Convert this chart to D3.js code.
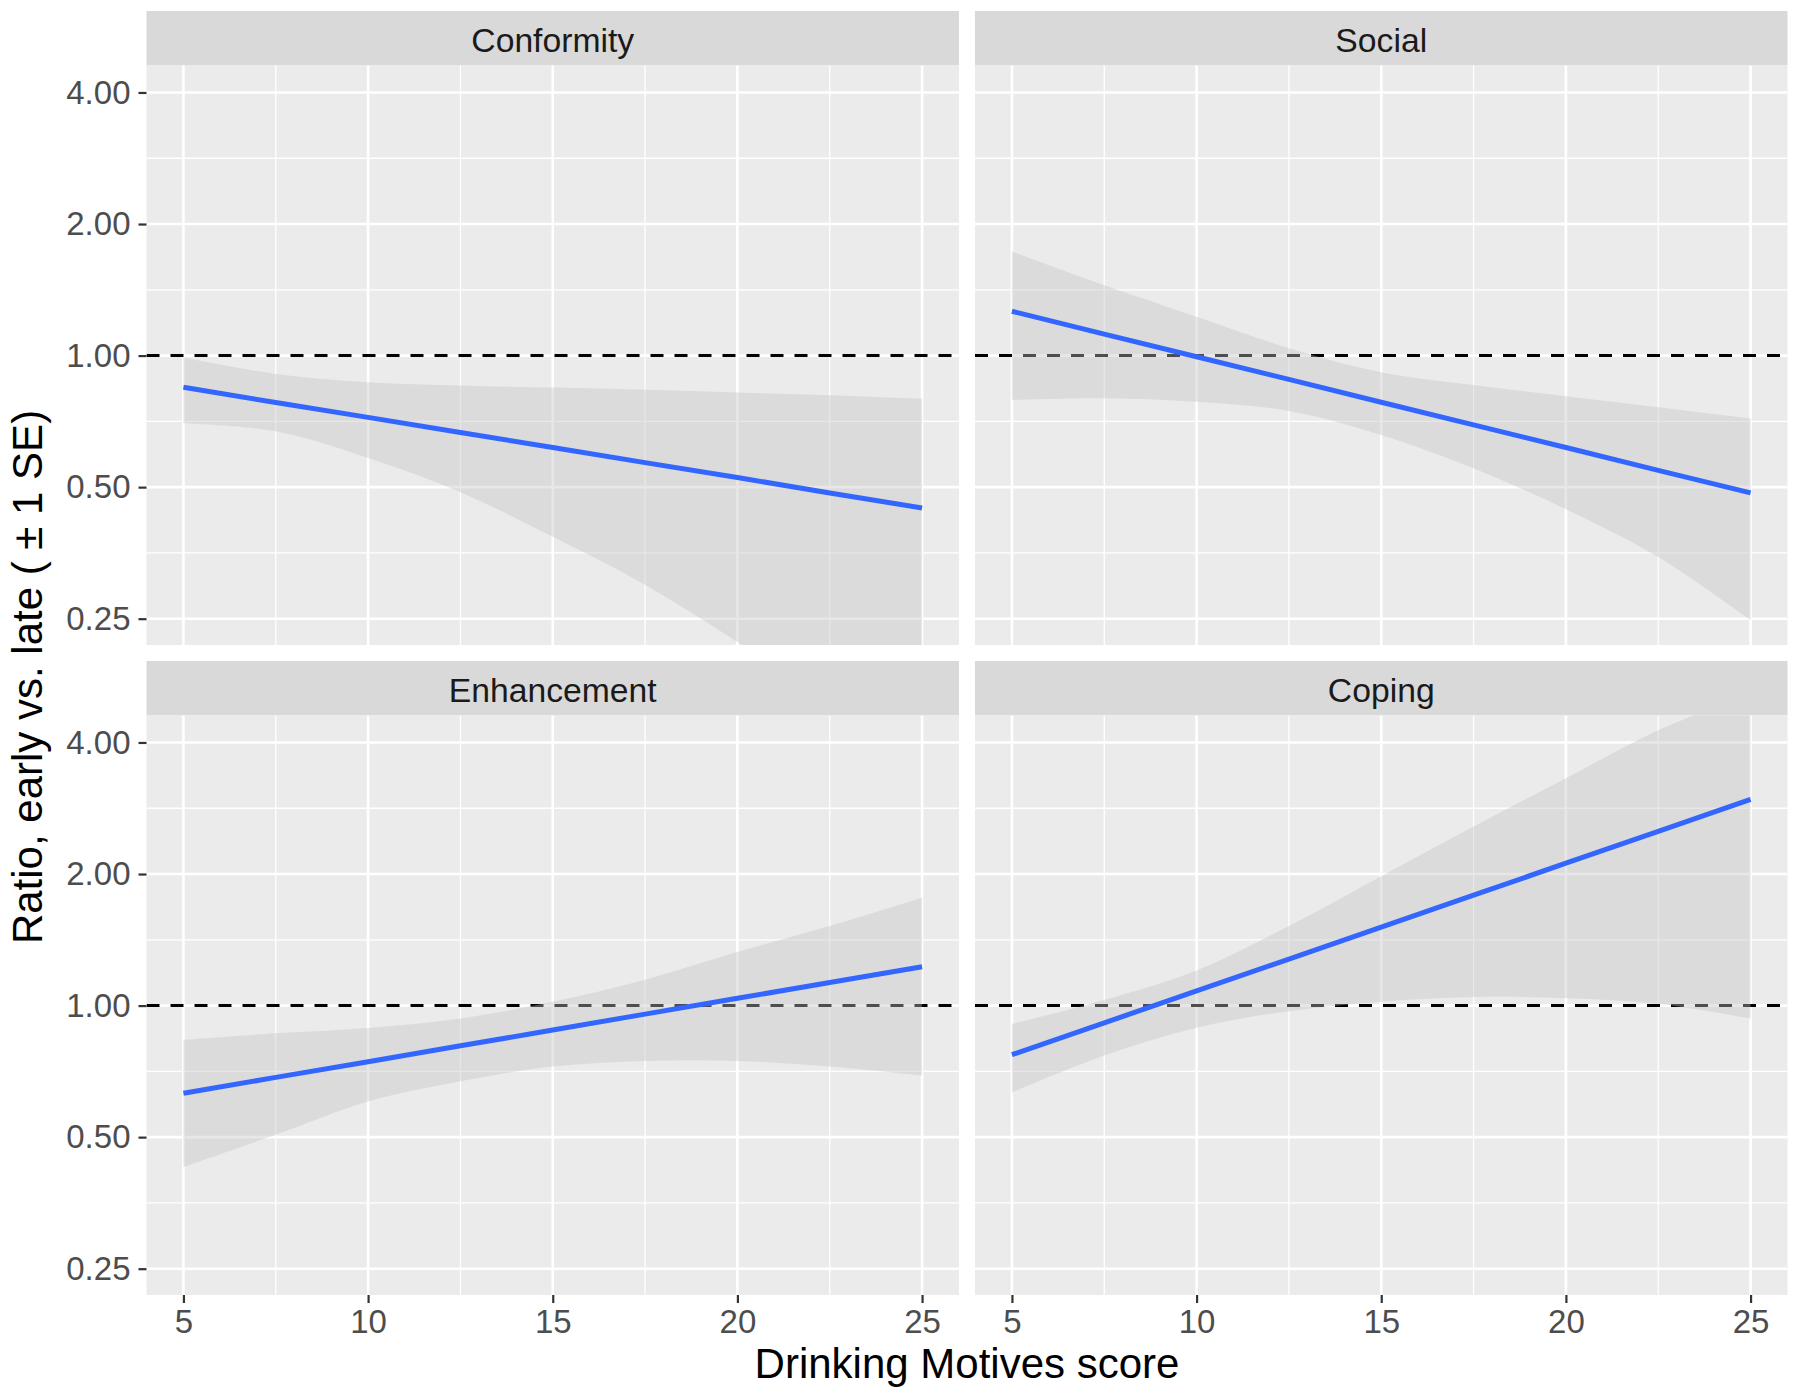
<!DOCTYPE html>
<html>
<head>
<meta charset="utf-8">
<script src="https://cdn.jsdelivr.net/npm/d3@7"></script>
<style>
  html, body { margin: 0; padding: 0; background: #ffffff; }
  svg { display: block; }
  text { font-family: "Liberation Sans", Arial, sans-serif; }
</style>
</head>
<body>
<svg id="chart" width="1800" height="1396"></svg>
<script>
// ---------------- data ----------------
const panels = ["Conformity", "Social", "Enhancement", "Coping"];
const xValues = [5, 7.5, 10, 12.5, 15, 17.5, 20, 22.5, 25];
const xTicks = [5, 10, 15, 20, 25];
const yTicks = [0.25, 0.5, 1, 2, 4];
const yTickLabels = ["0.25", "0.50", "1.00", "2.00", "4.00"];
const referenceLine = 1;

const conformityFit   = [0.846, 0.781, 0.722, 0.667, 0.616, 0.569, 0.526, 0.485, 0.448];
const conformityUpper = [0.990, 0.908, 0.869, 0.854, 0.845, 0.835, 0.823, 0.811, 0.796];
const conformityLower = [0.700, 0.671, 0.583, 0.487, 0.385, 0.299, 0.221, 0.159, 0.112];

const socialFit   = [1.263, 1.120, 0.994, 0.882, 0.782, 0.694, 0.616, 0.546, 0.485];
const socialUpper = [1.731, 1.448, 1.227, 1.040, 0.916, 0.856, 0.807, 0.762, 0.718];
const socialLower = [0.792, 0.799, 0.784, 0.747, 0.658, 0.552, 0.445, 0.346, 0.248];

const enhancementFit   = [0.630, 0.685, 0.744, 0.809, 0.879, 0.956, 1.039, 1.129, 1.227];
const enhancementUpper = [0.835, 0.864, 0.889, 0.934, 1.020, 1.146, 1.326, 1.520, 1.765];
const enhancementLower = [0.427, 0.506, 0.603, 0.671, 0.725, 0.747, 0.747, 0.725, 0.691];

const copingFit   = [0.772, 0.913, 1.080, 1.278, 1.512, 1.789, 2.117, 2.504, 2.963];
const copingUpper = [0.908, 1.030, 1.203, 1.520, 1.977, 2.570, 3.313, 4.267, 5.170];
const copingLower = [0.633, 0.769, 0.890, 0.971, 1.020, 1.046, 1.040, 1.010, 0.934];

const xTitle = "Drinking Motives score";
const yTitle = "Ratio, early vs. late ( \u00B1 1 SE)";

// ---------------- layout ----------------
const series = {
  "Conformity":  { fit: conformityFit,  upper: conformityUpper,  lower: conformityLower },
  "Social":      { fit: socialFit,      upper: socialUpper,      lower: socialLower },
  "Enhancement": { fit: enhancementFit, upper: enhancementUpper, lower: enhancementLower },
  "Coping":      { fit: copingFit,      upper: copingUpper,      lower: copingLower }
};

const colLeft = [146.5, 975];
const colWidth = 812.5;
const rowStripTop = [11, 661];
const stripH = 54.5;
const panelH = 579.5;

const svg = d3.select("#chart");
const fontTick = 33;

const xDomain = [4, 26];
const yDomain = [Math.pow(2, -2.2), Math.pow(2, 2.205)];

panels.forEach((name, i) => {
  const col = i % 2, row = Math.floor(i / 2);
  const left = colLeft[col], right = left + colWidth;
  const stripTop = rowStripTop[row];
  const top = stripTop + stripH, bottom = top + panelH;

  const x = d3.scaleLinear().domain(xDomain).range([left, right]);
  const y = d3.scaleLog().base(2).domain(yDomain).range([bottom, top]);

  const g = svg.append("g");

  // strip
  g.append("rect").attr("x", left).attr("y", stripTop).attr("width", colWidth).attr("height", stripH)
    .attr("fill", "#D9D9D9");
  g.append("text").attr("x", (left + right) / 2).attr("y", stripTop + 40.5)
    .attr("text-anchor", "middle").attr("font-size", 33.7).attr("fill", "#1A1A1A").text(name);

  // panel background
  g.append("rect").attr("x", left).attr("y", top).attr("width", colWidth).attr("height", panelH)
    .attr("fill", "#EBEBEB");

  const clipId = "clip" + i;
  svg.append("clipPath").attr("id", clipId).append("rect")
    .attr("x", left).attr("y", top).attr("width", colWidth).attr("height", panelH);

  // minor grid
  const xMinor = [7.5, 12.5, 17.5, 22.5];
  const yMinor = yTicks.slice(0, -1).map((v, k) => Math.sqrt(v * yTicks[k + 1]));
  g.selectAll(".xminor").data(xMinor).enter().append("line")
    .attr("x1", d => x(d)).attr("x2", d => x(d)).attr("y1", top).attr("y2", bottom)
    .attr("stroke", "#ffffff").attr("stroke-width", 1.3);
  g.selectAll(".yminor").data(yMinor).enter().append("line")
    .attr("x1", left).attr("x2", right).attr("y1", d => y(d)).attr("y2", d => y(d))
    .attr("stroke", "#ffffff").attr("stroke-width", 1.3);
  // major grid
  g.selectAll(".xmajor").data(xTicks).enter().append("line")
    .attr("x1", d => x(d)).attr("x2", d => x(d)).attr("y1", top).attr("y2", bottom)
    .attr("stroke", "#ffffff").attr("stroke-width", 2.6);
  g.selectAll(".ymajor").data(yTicks).enter().append("line")
    .attr("x1", left).attr("x2", right).attr("y1", d => y(d)).attr("y2", d => y(d))
    .attr("stroke", "#ffffff").attr("stroke-width", 2.6);

  const s = series[name];
  const rows = xValues.map((xv, k) => ({ x: xv, fit: s.fit[k], upper: s.upper[k], lower: s.lower[k] }));

  const plot = g.append("g").attr("clip-path", "url(#" + clipId + ")");

  // reference dashed line
  plot.append("line").attr("x1", left).attr("x2", right)
    .attr("y1", y(referenceLine)).attr("y2", y(referenceLine))
    .attr("stroke", "#000000").attr("stroke-width", 3).attr("stroke-dasharray", "13,11");

  // ribbon
  const area = d3.area()
    .x(d => x(d.x)).y0(d => y(d.lower)).y1(d => y(d.upper))
    .curve(d3.curveCatmullRom.alpha(0.5));
  plot.append("path").datum(rows).attr("d", area)
    .attr("fill", "#C3C3C3").attr("fill-opacity", 0.4);

  // fitted line
  const line = d3.line().x(d => x(d.x)).y(d => y(d.fit));
  plot.append("path").datum(rows).attr("d", line)
    .attr("fill", "none").attr("stroke", "#3366FF").attr("stroke-width", 5);

  // y axis (left column only)
  if (col === 0) {
    const ya = g.append("g").attr("transform", `translate(${left},0)`)
      .call(d3.axisLeft(y).tickValues(yTicks).tickSize(8).tickPadding(8)
        .tickFormat((d, k) => yTickLabels[k]));
    ya.select(".domain").remove();
    ya.selectAll(".tick line").attr("stroke", "#333333").attr("stroke-width", 2.2);
    ya.selectAll(".tick text").attr("fill", "#4D4D4D").attr("font-size", fontTick)
      .attr("font-family", "Liberation Sans, Arial, sans-serif");
  }
  // x axis (bottom row only)
  if (row === 1) {
    const xa = g.append("g").attr("transform", `translate(0,${bottom})`)
      .call(d3.axisBottom(x).tickValues(xTicks).tickSize(8).tickPadding(7));
    xa.select(".domain").remove();
    xa.selectAll(".tick line").attr("stroke", "#333333").attr("stroke-width", 2.2);
    xa.selectAll(".tick text").attr("fill", "#4D4D4D").attr("font-size", fontTick)
      .attr("font-family", "Liberation Sans, Arial, sans-serif");
  }
});

// axis titles
svg.append("text").attr("x", (colLeft[0] + colLeft[1] + colWidth) / 2).attr("y", 1378)
  .attr("text-anchor", "middle").attr("font-size", 42).attr("fill", "#000000").text(xTitle);
svg.append("text").attr("transform", "translate(42,677) rotate(-90)")
  .attr("text-anchor", "middle").attr("font-size", 42).attr("fill", "#000000").text(yTitle);
</script>
</body>
</html>
